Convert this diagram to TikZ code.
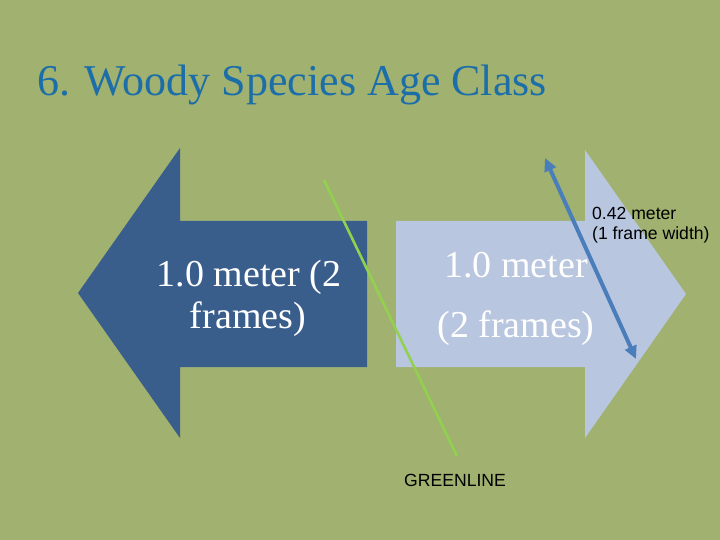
\documentclass[tikz,border=0pt]{standalone}
\usepackage{fontspec}
\setmainfont{Liberation Serif}
\setsansfont{Liberation Sans}
\usetikzlibrary{arrows.meta}
\definecolor{bgc}{RGB}{160,177,112}
\definecolor{darkarr}{RGB}{58,94,140}
\definecolor{lightarr}{RGB}{185,198,224}
\definecolor{titlec}{RGB}{28,110,168}
\definecolor{greenl}{RGB}{146,208,80}
\definecolor{measc}{RGB}{74,126,187}
\tikzset{
  bigtxt/.style={font=\fontsize{38}{42}\selectfont, text=white, inner sep=0pt, anchor=base},
  smalltxt/.style={font=\sffamily\fontsize{17.6}{20}\selectfont, text=black, inner sep=0pt, anchor=base west},
  titletxt/.style={font=\fontsize{44}{50}\selectfont, text=titlec, inner sep=0pt, anchor=base west},
}
\begin{document}
\begin{tikzpicture}[x=1pt,y=-1pt]
\fill[bgc] (0,0) rectangle (720,540);
\useasboundingbox (0,0) rectangle (720,540);
% title
\node[titletxt] (title) at (37,96) {6. Woody Species Age Class};
% left arrow
\fill[darkarr] (78,293) -- (180,148) -- (180,221) -- (367,221) -- (367,367) -- (180,367) -- (180,438) -- cycle;
% right arrow
\fill[lightarr] (396,221) -- (585,221) -- (585,150) -- (686,294) -- (585,438) -- (585,367) -- (396,367) -- cycle;
% texts
\node[bigtxt] (l1) at (249,286) {1.0 meter (2};
\node[bigtxt] (l2) at (248,328) {frames)};
\node[bigtxt] (r1) at (516,277) {1.0 meter};
\node[bigtxt] (r2) at (516,337) {(2 frames)};
% green line
\coordinate (g1) at (324,180);
\coordinate (g2) at (457,456);
\draw[greenl, line width=2.6pt] (g1) -- (g2);
% measure arrow
\coordinate (m1) at (545,158);
\coordinate (m2) at (636,359);
\draw[measc, line width=4pt, {Triangle[length=13pt,width=12pt]}-{Triangle[length=13pt,width=12pt]}] (m1) -- (m2);
% small labels
\node[smalltxt] (s1) at (592,219) {0.42 meter};
\node[smalltxt] (s2) at (592,240) {(1 frame width)};
\node[smalltxt] (gl) at (404,486) {GREENLINE};
\end{tikzpicture}
\end{document}
